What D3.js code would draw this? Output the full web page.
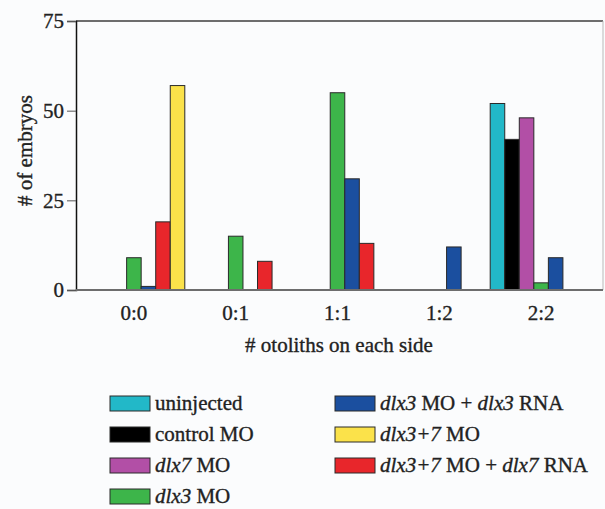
<!DOCTYPE html>
<html>
<head>
  <meta charset="utf-8">
  <title>Otolith counts</title>
  <style>
    body { margin: 0; background: #fbfcfd; }
    text { font-family: "Liberation Serif", "Times New Roman", serif; fill: #222; stroke: #222; stroke-width: 0.35px; }
  </style>
</head>
<body>
  <div id="chart"></div>
  <script src="https://d3js.org/d3.v7.min.js"></script>
  <script>
    // categories on the x axis
    const groups = ['0:0', '0:1', '1:1', '1:2', '2:2'];
    const yTicks = [0, 25, 50, 75];

    // one entry per group, in the order of groups
    const uninjected   = [0, 0, 0, 0, 52];
    const controlMO    = [0, 0, 0, 0, 42];
    const dlx7MO       = [0, 0, 0, 0, 48];
    const dlx3MO       = [9, 15, 55, 0, 2];
    const dlx3MOdlx3RNA = [1, 0, 31, 12, 9];
    const dlx37MOdlx7RNA = [19, 8, 13, 0, 0];
    const dlx37MO      = [57, 0, 0, 0, 0];

    // legend labels: [text, italic]
    const seriesNames = [
      [['uninjected', false]],
      [['control MO', false]],
      [['dlx7', true], [' MO', false]],
      [['dlx3', true], [' MO', false]],
      [['dlx3', true], [' MO + ', false], ['dlx3', true], [' RNA', false]],
      [['dlx3+7', true], [' MO + ', false], ['dlx7', true], [' RNA', false]],
      [['dlx3+7', true], [' MO', false]]
    ];
    const seriesValues = [uninjected, controlMO, dlx7MO, dlx3MO, dlx3MOdlx3RNA, dlx37MOdlx7RNA, dlx37MO];
    const colors = ['#22b8c8', '#000000', '#b24fa6', '#3db54a', '#1b4f9f', '#e8262b', '#fbe24a'];

    // legend layout order (left column then right column)
    const legendOrder = [0, 1, 2, 3, 4, 6, 5];

    const W = 605, H = 509;
    const margin = { top: 21, right: 2, bottom: 219, left: 76 };
    const plotRight = W - margin.right;
    const plotBottom = H - margin.bottom;

    const svg = d3.select('#chart').append('svg')
      .attr('width', W)
      .attr('height', H);

    //x scales
    const x0 = d3.scaleBand()
      .domain(groups)
      .range([margin.left + 7, plotRight - 11])
      .padding(0);

    const x1 = d3.scaleBand()
      .domain(d3.range(seriesValues.length))
      .range([0, x0.bandwidth()])
      .padding(0);

    //y scale
    const y = d3.scaleLinear()
      .domain([0, 75])
      .range([plotBottom, margin.top]);

    // frame: top line and faint right edge
    svg.append('line')
      .attr('x1', margin.left).attr('x2', plotRight)
      .attr('y1', y(75)).attr('y2', y(75))
      .attr('stroke', '#6d6d6d').attr('stroke-width', 2);
    svg.append('line')
      .attr('x1', plotRight).attr('x2', plotRight)
      .attr('y1', y(75)).attr('y2', y(0))
      .attr('stroke', '#b9b9b9').attr('stroke-width', 1);

    // bars
    const bars = [];
    seriesValues.forEach((vals, s) => {
      vals.forEach((v, g) => {
        if (v > 0) bars.push({ s, g, v });
      });
    });

    svg.append('g').selectAll('rect')
      .data(bars)
      .join('rect')
      .attr('x', d => x0(groups[d.g]) + x1(d.s))
      .attr('y', d => y(d.v))
      .attr('width', x1.bandwidth())
      .attr('height', d => y(0) - y(d.v))
      .attr('fill', d => colors[d.s])
      .attr('stroke', '#2a2a2a')
      .attr('stroke-width', 1);

    // y axis
    const yAxis = svg.append('g')
      .attr('transform', `translate(${margin.left},0)`)
      .call(d3.axisLeft(y).tickValues(yTicks).tickSize(9).tickPadding(3));
    yAxis.select('.domain').attr('stroke', '#111').attr('stroke-width', 1.5);
    yAxis.selectAll('.tick line').attr('stroke', '#555');
    yAxis.selectAll('text')
      .style('font-size', '21px')
      .attr('fill', '#222');

    // x axis
    const xAxis = svg.append('g')
      .attr('transform', `translate(0,${y(0)})`)
      .call(d3.axisBottom(x0).tickSize(0).tickPadding(15));
    xAxis.select('.domain')
      .attr('d', `M${margin.left},0H${plotRight}`)
      .attr('stroke', '#6d6d6d').attr('stroke-width', 2);
    xAxis.selectAll('text')
      .style('font-size', '21px')
      .attr('fill', '#222');

    // axis titles
    svg.append('text')
      .attr('transform', `translate(32,${(y(0) + y(75)) / 2 - 5}) rotate(-90)`)
      .attr('text-anchor', 'middle')
      .style('font-size', '21px')
      .text('# of embryos');

    svg.append('text')
      .attr('x', 339)
      .attr('y', 352)
      .attr('text-anchor', 'middle')
      .style('font-size', '21px')
      .text('# otoliths on each side');

    // legend
    const legend = svg.append('g');
    legendOrder.forEach((s, i) => {
      const col = i < 4 ? 0 : 1;
      const row = i < 4 ? i : i - 4;
      const lx = col === 0 ? 110 : 335;
      const ly = 396 + row * 31;
      legend.append('rect')
        .attr('x', lx).attr('y', ly)
        .attr('width', 40).attr('height', 15)
        .attr('fill', colors[s])
        .attr('stroke', '#2a2a2a').attr('stroke-width', 1);
      const t = legend.append('text')
        .attr('x', lx + 45)
        .attr('y', ly + 13.5)
        .style('font-size', '21px');
      seriesNames[s].forEach(([txt, it]) => {
        t.append('tspan')
          .style('font-style', it ? 'italic' : 'normal')
          .text(txt);
      });
    });
  </script>
</body>
</html>
